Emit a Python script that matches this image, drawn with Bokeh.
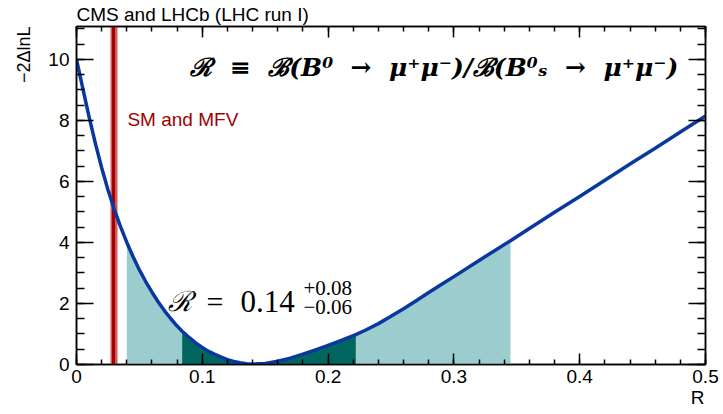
from bokeh.plotting import figure
from bokeh.models import (Range1d, LinearAxis, SingleIntervalTicker, NumeralTickFormatter,
                          Label, Title, ColumnDataSource)
from bokeh.embed import file_html
from bokeh.resources import INLINE

# ---- data ----
r_vals = [0.000, 0.005, 0.010, 0.015, 0.020, 0.025, 0.030, 0.035, 0.040, 0.045,
          0.050, 0.055, 0.060, 0.065, 0.070, 0.075, 0.080, 0.084, 0.090, 0.095,
          0.100, 0.105, 0.110, 0.115, 0.120, 0.125, 0.130, 0.135, 0.140, 0.150,
          0.160, 0.170, 0.180, 0.190, 0.200, 0.210, 0.222, 0.230, 0.240, 0.250,
          0.260, 0.270, 0.280, 0.290, 0.300, 0.320, 0.345, 0.360, 0.380, 0.400,
          0.420, 0.440, 0.460, 0.480, 0.500]
nll_vals = [10.00, 9.05, 8.12, 7.25, 6.45, 5.73, 5.09, 4.52, 4.00, 3.53,
            3.10, 2.72, 2.37, 2.05, 1.76, 1.50, 1.26, 1.09, 0.87, 0.70,
            0.56, 0.43, 0.33, 0.24, 0.16, 0.10, 0.055, 0.025, 0.01, 0.035,
            0.105, 0.21, 0.34, 0.48, 0.63, 0.78, 0.98, 1.13, 1.34, 1.58,
            1.83, 2.09, 2.36, 2.62, 2.88, 3.41, 4.06, 4.46, 4.99, 5.51,
            6.04, 6.57, 7.09, 7.62, 8.15]
one_sigma = [0.084, 0.222]
two_sigma = [0.040, 0.345]
sm_center = 0.0295
sm_low = 0.0268
sm_high = 0.0322
best_fit = "0.14"
err_up = "+0.08"
err_down = "\u22120.06"
x_range_vals = [0.0, 0.5]
y_range_vals = [0.0, 11.08]

NB = "\u00A0"

# ---- figure ----
p = figure(width=723, height=414, output_backend="svg", toolbar_location=None,
           x_range=Range1d(*x_range_vals), y_range=Range1d(*y_range_vals),
           x_axis_location=None, y_axis_location=None,
           min_border_left=76, min_border_right=18, min_border_top=26, min_border_bottom=50)
p.grid.visible = False
p.outline_line_color = "black"
p.outline_line_width = 1.5
p.background_fill_color = "white"
p.border_fill_color = "white"

p.title.text = "CMS and LHCb (LHC run I)"
p.title.align = "left"
p.title.text_font = "Liberation Sans"
p.title.text_font_size = "19px"
p.title.text_font_style = "normal"
p.title.text_color = "black"
p.title.standoff = 3
p.title.offset = 0

xt = SingleIntervalTicker(interval=0.1, num_minor_ticks=5)
yt = SingleIntervalTicker(interval=2, num_minor_ticks=4)

def make_axis(ticker, major_in, minor_in, labels, standoff):
    ax = LinearAxis(ticker=ticker)
    ax.axis_line_color = "black"
    ax.axis_line_width = 1.5
    ax.major_tick_in = major_in
    ax.major_tick_out = 0
    ax.minor_tick_in = minor_in
    ax.minor_tick_out = 0
    ax.major_tick_line_color = "black"
    ax.minor_tick_line_color = "black"
    ax.major_tick_line_width = 1.5
    ax.minor_tick_line_width = 1.5
    ax.major_label_text_font = "Liberation Sans"
    ax.axis_label_text_font = "Liberation Sans"
    ax.axis_label_text_font_style = "normal"
    ax.axis_label_text_color = "black"
    if labels:
        ax.major_label_text_color = "black"
        ax.major_label_text_font_size = "19px"
        ax.major_label_standoff = standoff
    else:
        ax.major_label_text_color = None
        ax.major_label_text_font_size = "1px"
        ax.major_label_standoff = 0
    return ax

def align_end(ax):
    try:
        if "axis_label_align" in ax.properties():
            ax.axis_label_align = "end"
    except Exception:
        pass

xb = make_axis(xt, 11, 5, True, 5)
xb.formatter = NumeralTickFormatter(format="0.[0]")
xb.axis_label = "R" + NB * 3
xb.axis_label_text_font_size = "19px"
xb.axis_label_standoff = 1
align_end(xb)
p.add_layout(xb, "below")
xa = make_axis(xt, 11, 5, False, 0)
p.add_layout(xa, "above")
yl = make_axis(yt, 17, 8, True, 7)
p.add_layout(yl, "left")
yr = make_axis(yt, 17, 8, False, 0)
p.add_layout(yr, "right")

# y-axis title, aligned to the top end of the axis
p.add_layout(Title(text="\u22122\u0394lnL", align="right", offset=0, standoff=23,
                   text_font="Liberation Sans", text_font_size="18px",
                   text_font_style="normal", text_color="black"), "left")

# ---- confidence bands ----
src2 = ColumnDataSource(dict(
    x=[r for r in r_vals if two_sigma[0] <= r <= two_sigma[1]],
    y=[v for r, v in zip(r_vals, nll_vals) if two_sigma[0] <= r <= two_sigma[1]]))
src1 = ColumnDataSource(dict(
    x=[r for r in r_vals if one_sigma[0] <= r <= one_sigma[1]],
    y=[v for r, v in zip(r_vals, nll_vals) if one_sigma[0] <= r <= one_sigma[1]]))
p.varea(x="x", y1=0, y2="y", source=src2, fill_color="#9CCDCE")
p.varea(x="x", y1=0, y2="y", source=src1, fill_color="#00665F")

# ---- SM band ----
p.vstrip(x0=[sm_low], x1=[sm_high], fill_color="#D25A5A", line_color=None)
p.vspan(x=[sm_center], line_color="#A00000", line_width=3)

# ---- likelihood curve ----
p.line(r_vals, nll_vals, line_color="#0A38A0", line_width=3.5, line_join="round")

# ---- texts inside the frame ----
formula = ("\u211B" + NB + " \u2261 " + NB + "\u212C(B\u2070" + NB + " \u2192 " + NB +
           "\u03BC\u207A\u03BC\u207B)/\u212C(B\u2070\u209B" + NB + " \u2192 " + NB +
           "\u03BC\u207A\u03BC\u207B)")
p.add_layout(Label(x=0.0405, y=8.04, text="SM and MFV",
                   text_font="Liberation Sans", text_font_size="19px",
                   text_color="#A00000", text_baseline="alphabetic", text_align="left"))
p.add_layout(Label(x=0.0906, y=9.72, text=formula,
                   text_font="DejaVu Serif", text_font_size="25px", text_font_style="bold italic",
                   text_color="black", text_baseline="alphabetic", text_align="left"))
p.add_layout(Label(x=0.0731, y=2.075, text="\u211B",
                   text_font="DejaVu Serif", text_font_size="28px", text_font_style="italic",
                   text_color="black", text_baseline="alphabetic", text_align="left"))
p.add_layout(Label(x=0.1033, y=2.075, text="=",
                   text_font="Liberation Serif", text_font_size="30px",
                   text_color="black", text_baseline="alphabetic", text_align="left"))
p.add_layout(Label(x=0.1304, y=2.075, text=best_fit,
                   text_font="Liberation Serif", text_font_size="31px",
                   text_color="black", text_baseline="alphabetic", text_align="left"))
p.add_layout(Label(x=0.1804, y=2.52, text=err_up,
                   text_font="Liberation Serif", text_font_size="21px",
                   text_color="black", text_baseline="alphabetic", text_align="left"))
p.add_layout(Label(x=0.1804, y=1.87, text=err_down,
                   text_font="Liberation Serif", text_font_size="21px",
                   text_color="black", text_baseline="alphabetic", text_align="left"))

open("out.html", "w").write(file_html(p, INLINE))
